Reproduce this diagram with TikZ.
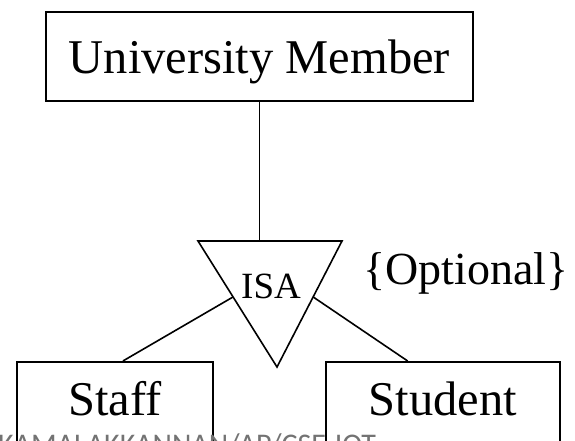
\documentclass[tikz,border=0pt]{standalone}
\usepackage{fontspec}
\setmainfont{Liberation Serif}
\newfontfamily\markfont{Carlito}
\usetikzlibrary{calc}
\tikzset{
  entity/.style={draw, line width=1.6pt, inner ysep=14pt, inner xsep=0pt, font=\fontsize{48.5}{58}\selectfont},
  link/.style={line width=1.6pt}
}
\begin{document}
\begin{tikzpicture}[x=1pt, y=-1pt]
    \useasboundingbox (0,0) rectangle (575,441);

    % Superclass entity
    \node[entity, anchor=north, minimum width=427pt, text height=48pt, text depth=13pt] (member) at (259.5,11) {University Member};

    % Subclass entities (cut off by the page edge)
    \node[entity, anchor=north, minimum width=196pt, text height=40pt, text depth=60pt] (staff) at (115,361) {Staff};
    \node[entity, anchor=north, minimum width=234pt, text height=40pt, text depth=60pt] (student) at (443,361) {Student};

    % ISA triangle
    \coordinate (TL) at (198,241);
    \coordinate (TR) at (342,241);
    \coordinate (AP) at (277,367);
    \draw[link, line join=miter] (TL) -- (TR) -- (AP) -- cycle;
    \node[inner sep=0pt, font=\fontsize{37}{44}\selectfont] (isa) at (271,286) {ISA};
    \node[anchor=base, font=\fontsize{46}{55}\selectfont] (optional) at (466,284) {\{Optional\}};

    % Connectors
    \coordinate (isaL) at ($(TL)!0.444!(AP)$);
    \coordinate (isaR) at ($(TR)!0.444!(AP)$);
    \draw[link] (member.south) -- (member.south |- TL);
    \draw[link] (isaL) -- ($(staff.north west)!0.54!(staff.north east)$);
    \draw[link] (isaR) -- ($(student.north west)!0.35!(student.north east)$);

    % Watermark
    \node[anchor=base west, inner sep=0pt, text=black!55, font=\markfont\fontsize{30}{36}\selectfont] (mark) at (-2,454) {KAMALAKKANNAN/AP/CSE-IOT};

\end{tikzpicture}
\end{document}
